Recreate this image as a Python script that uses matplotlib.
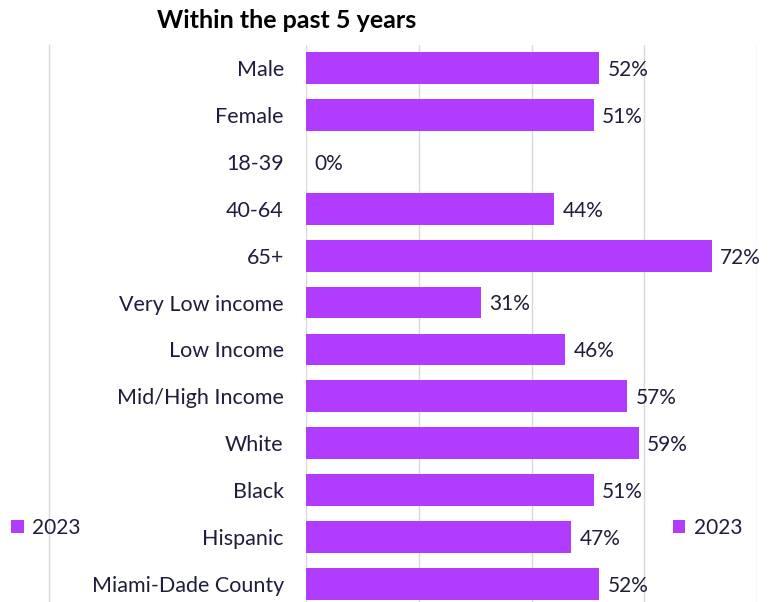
import matplotlib.pyplot as plt
from matplotlib.patches import Patch
from matplotlib.lines import Line2D

categories = ['Male', 'Female', '18-39', '40-64', '65+', 'Very Low income',
              'Low Income', 'Mid/High Income', 'White', 'Black', 'Hispanic',
              'Miami-Dade County']
values = [52, 51, 0, 44, 72, 31, 46, 57, 59, 51, 47, 52]
series_name = '2023'

bar_color = '#B23CFD'
text_color = '#1E1E3C'
plt.rcParams['font.family'] = ['Lato', 'DejaVu Sans']

fig = plt.figure(figsize=(7.69, 6.02), dpi=100)
ax = fig.add_axes([306 / 769, 1 - 607.5 / 602, (757 - 306) / 769, (607.5 - 44.5) / 602])

y = list(range(len(categories)))
ax.barh(y, values, height=0.68, color=bar_color, zorder=3)
for yi, v in zip(y, values):
    ax.text(v + 1.5, yi + 0.04, f'{v}%', va='center', ha='left', fontsize=15, color=text_color)

ax.set_xlim(0, 80)
ax.set_ylim(len(categories) - 0.5, -0.5)
ax.set_yticks(y)
ax.set_yticklabels(categories, fontsize=15.5, color=text_color)
ax.set_xticks([0, 20, 40, 60, 80])
ax.xaxis.grid(True, color='#D9D9D9', linewidth=1, zorder=0)
ax.tick_params(axis='y', length=0, pad=16)
ax.tick_params(axis='x', length=0, labelbottom=False)
for s in ax.spines.values():
    s.set_visible(False)

# plot area border line on the left
fig.add_artist(Line2D([49 / 769, 49 / 769], [0, 1 - 45 / 602], color='#D9D9D9', linewidth=1))

fig.text(157 / 769, 1 - 21 / 602, 'Within the past 5 years', fontsize=18, fontweight='bold',
         color='black', ha='left', va='center')

handle = [Patch(facecolor=bar_color, label=series_name)]
fig.legend(handles=handle, loc='center left', bbox_to_anchor=(-0.01, 1 - 528 / 602),
           frameon=False, fontsize=15, handlelength=0.6, handleheight=0.6,
           handletextpad=0.4, labelcolor=text_color)
fig.legend(handles=handle, loc='center left', bbox_to_anchor=(654 / 769, 1 - 528 / 602),
           frameon=False, fontsize=15, handlelength=0.6, handleheight=0.6,
           handletextpad=0.4, labelcolor=text_color)

fig.savefig('out.png', dpi=100)
